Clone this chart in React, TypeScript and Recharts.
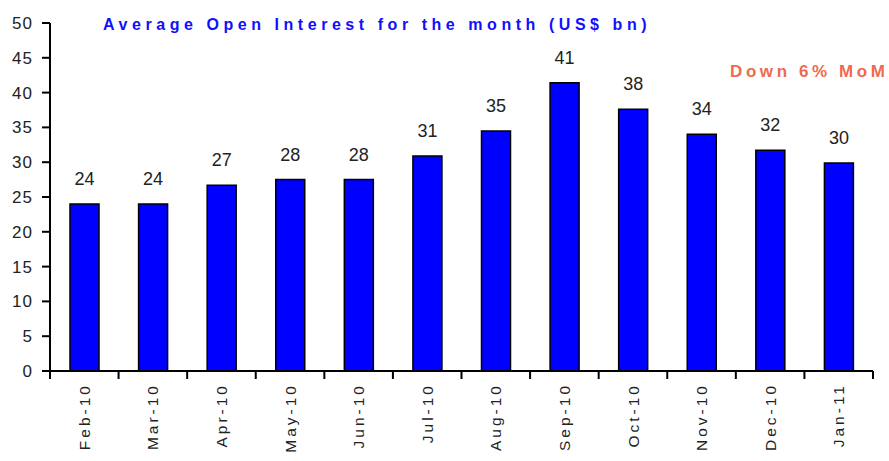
import { Bar, BarChart, LabelList, XAxis, YAxis } from "recharts";

const MONTHS = [
  "Feb-10",
  "Mar-10",
  "Apr-10",
  "May-10",
  "Jun-10",
  "Jul-10",
  "Aug-10",
  "Sep-10",
  "Oct-10",
  "Nov-10",
  "Dec-10",
  "Jan-11",
];
const OPEN_INTEREST = [24.0, 24.0, 26.7, 27.5, 27.5, 30.9, 34.5, 41.4, 37.6, 34.0, 31.7, 29.9];
const Y_TICKS = [0, 5, 10, 15, 20, 25, 30, 35, 40, 45, 50];

const TITLE = "Average Open Interest for the month (US$ bn)";
const NOTE = "Down 6% MoM";

const FONT = "'Liberation Sans', Arial, sans-serif";

const data = MONTHS.map((m, i) => ({ month: m, value: OPEN_INTEREST[i] }));

// month label plus tick marks on the category boundaries (Excel style)
function MonthTick(props: any) {
  const { x, y, payload, index } = props;
  const half = payload.offset ?? 0;
  const ty = y + 12;
  const last = index === MONTHS.length - 1;
  return (
    <g>
      <line x1={x - half} x2={x - half} y1={y} y2={y + 8} stroke="#000" strokeWidth={2} />
      {last && <line x1={x + half} x2={x + half} y1={y} y2={y + 8} stroke="#000" strokeWidth={2} />}
      <text
        x={x}
        y={ty}
        dy="0.36em"
        transform={`rotate(-90, ${x}, ${ty})`}
        textAnchor="end"
        fontSize={15.5}
        letterSpacing={3}
        fontFamily={FONT}
        fill="#222"
      >
        {payload.value}
      </text>
    </g>
  );
}

export default function App() {
  return (
    <div style={{ position: "absolute", left: 0, top: 0, width: 889, height: 461, fontFamily: FONT }}>
      <BarChart
        width={889}
        height={461}
        data={data}
        margin={{ top: 23, right: 16, bottom: 0, left: 0 }}
      >
        <XAxis
          dataKey="month"
          interval={0}
          axisLine={{ stroke: "#000", strokeWidth: 2 }}
          tickLine={false}
          tickSize={0}
          tickMargin={0}
          height={90}
          tick={<MonthTick />}
        />
        <YAxis
          domain={[0, 50]}
          ticks={Y_TICKS}
          width={50}
          tickSize={8}
          tickMargin={9}
          axisLine={{ stroke: "#000", strokeWidth: 2 }}
          tickLine={{ stroke: "#000", strokeWidth: 2 }}
          tick={{ fontSize: 17, fill: "#222", fontFamily: FONT, letterSpacing: 1 }}
          interval={0}
        />
        <Bar
          dataKey="value"
          fill="#0000ff"
          stroke="#000"
          strokeWidth={1.5}
          barSize={29}
          isAnimationActive={false}
        >
          <LabelList
            dataKey="value"
            position="top"
            offset={19}
            formatter={(v: any) => Math.round(Number(v))}
            style={{ fontSize: 18, fill: "#222", fontFamily: FONT }}
          />
        </Bar>
        <text
          x={103}
          y={30}
          fontSize={16}
          fontWeight="bold"
          letterSpacing={4.55}
          fill="#1010ff"
          fontFamily={FONT}
        >
          {TITLE}
        </text>
        <text
          x={730}
          y={77}
          fontSize={17}
          fontWeight="bold"
          letterSpacing={3.6}
          fill="#ef6a4e"
          fontFamily={FONT}
        >
          {NOTE}
        </text>
      </BarChart>
    </div>
  );
}
